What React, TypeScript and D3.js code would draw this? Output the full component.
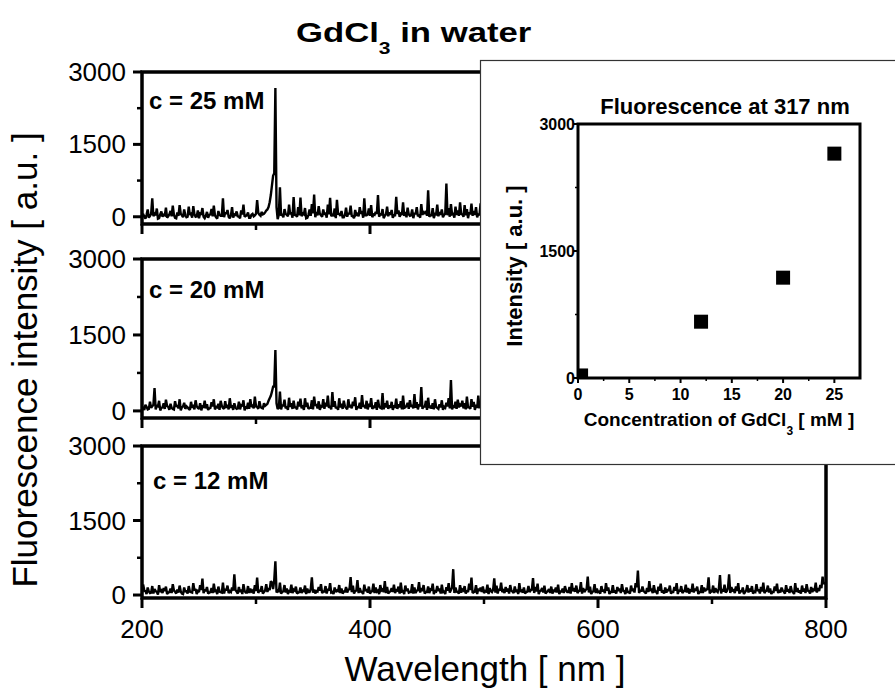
import React from "react";
import * as d3 from "d3";

const W = 895;
const H = 691;

// spectra, read at 1 nm: "odd" arrays hold 201, 203, 205 ... nm,
// "even" arrays hold 200, 202, 204 ... nm
const c25Odd = [
  60, -40, 150, 20, 380, 60, 170, -30, 110, 40,
  190, 10, 120, 230, -20, 90, 240, 30, 150, -10,
  210, 60, 220, 0, 130, 70, 180, -30, 100, 40,
  160, 230, -10, 120, 20, 380, 90, 140, -30, 200,
  50, 110, 0, 130, 250, 20, 90, -20, 60, 30,
  345, 40, 100, 60, 130, 200, 450, 850, 2670, -50,
  610, 60, 160, 40, 250, 90, 410, 30, 200, 400,
  70, 180, -20, 150, 260, 460, 100, 220, 30, 150,
  90, 250, 390, 40, 170, 350, 60, 120, -10, 190,
  80, 230, 10, 140, 60, 200, 120, 380, 30, 170,
  240, 50, 100, 450, 70, 160, 20, 210, 90, 140,
  30, 414, 130, 60, 300, 100, 190, 20, 150, 80,
  200, 40, 260, 90, 120, 550, 30, 180, 60, 250,
  100, 150, 40, 690, 180, 260, 60, 210, 130, 300,
  50, 240, 160, 90, 270, 120, 200, 60, 280, 150,
];
const c25Even = [
  20, 0, 40, -20, 60, 10, 30, -40, 50, 0,
  30, -20, 50, 10, 40, -30, 20, 60, -10, 30,
  0, 40, -20, 50, 10, -30, 60, 0, 20, -20,
  50, 10, 30, -40, 40, 20, -10, 60, 0, 30,
  -20, 40, 10, -30, 50, 0, 30, -20, 40, 10,
  60, 80, 20, 50, 90, 150, 300, 650, 900, 200,
  40, 20, -10, 60, 10, 50, -20, 40, 0, 30,
  10, 50, -30, 40, 20, 70, -10, 30, 60, 0,
  40, -20, 50, 10, 30, -30, 60, 20, -10, 40,
  0, 50, 20, -30, 40, 10, 60, -20, 30, 50,
  20, -10, 40, 60, 0, 30, -30, 50, 10, 40,
  -20, 30, 60, 0, 40, 20, -10, 50, 30, -30,
  50, 10, -20, 40, 60, 20, 0, 30, -30, 50,
  10, 40, -10, 60, 30, 0, 50, -20, 40, 20,
  60, 0, 30, -30, 50, 20, 40, -10, 30, 10,
];

const c20Odd = [
  60, 120, 30, 180, 90, 450, 100, 200, 60, 150,
  220, 80, 140, 40, 190, 110, 230, 70, 160, 90,
  40, 180, 120, 210, 60, 150, 90, 200, 130, 50,
  170, 230, 80, 140, 200, 60, 190, 120, 250, 90,
  150, 40, 180, 110, 210, 70, 160, 230, 100, 280,
  80, 190, 60, 150, 120, 200, 300, 480, 1200, 40,
  380, 120, 220, 90, 260, 150, 200, 70, 180, 240,
  110, 250, 160, 60, 210, 280, 130, 190, 90, 230,
  160, 300, 100, 370, 190, 80, 250, 140, 200, 60,
  230, 120, 180, 270, 90, 160, 310, 110, 200, 140,
  250, 80, 170, 220, 60, 350, 150, 200, 110, 180,
  90, 240, 130, 190, 300, 70, 160, 210, 120, 330,
  170, 130, 470, 100, 200, 260, 80, 150, 230, 60,
  130, 210, 80, 160, 250, 610, 90, 180, 220, 120,
  200, 150, 280, 70, 230, 180, 120, 300, 160, 210,
];
const c20Even = [
  50, 20, 80, 40, 60, 120, 30, 90, 10, 70,
  40, 100, 20, 60, 30, 80, 50, 10, 90, 40,
  70, 20, 60, 30, 90, 40, 10, 80, 50, 20,
  60, 90, 30, 70, 20, 100, 40, 60, 30, 80,
  20, 70, 50, 30, 90, 10, 60, 40, 80, 50,
  90, 40, 80, 50, 100, 140, 250, 380, 480, 150,
  60, 30, 90, 50, 20, 80, 40, 70, 30, 90,
  50, 20, 80, 40, 60, 30, 100, 50, 20, 70,
  40, 90, 60, 30, 80, 50, 20, 70, 40, 90,
  30, 70, 50, 100, 20, 60, 40, 80, 50, 30,
  80, 40, 60, 20, 90, 50, 30, 70, 40, 60,
  20, 80, 40, 70, 30, 60, 100, 40, 80, 50,
  60, 30, 90, 40, 70, 20, 60, 50, 30, 80,
  40, 70, 20, 60, 90, 50, 30, 80, 40, 70,
  90, 50, 30, 70, 40, 80, 20, 60, 50, 30,
];

const c12Odd = [
  210, 80, 150, 40, 180, 120, 60, 200, 90, 140,
  170, 50, 130, 220, 70, 110, 190, 30, 150, 90,
  180, 60, 240, 120, 80, 200, 330, 110, 160, 50,
  140, 230, 90, 170, 60, 250, 120, 190, 80, 150,
  415, 70, 160, 110, 220, 50, 180, 130, 90, 200,
  350, 100, 180, 60, 220, 140, 280, 120, 680, 90,
  250, 60, 200, 130, 80, 210, 110, 170, 50, 150,
  90, 190, 130, 60, 355, 110, 80, 160, 220, 70,
  180, 120, 240, 60, 150, 90, 200, 130, 70, 160,
  110, 360, 190, 80, 300, 140, 60, 210, 120, 170,
  70, 230, 150, 90, 200, 110, 280, 160, 60, 140,
  210, 100, 170, 250, 80, 190, 130, 60, 220, 150,
  90, 260, 140, 200, 60, 170, 110, 230, 80, 180,
  130, 210, 70, 160, 240, 100, 520, 150, 60, 200,
  110, 180, 90, 230, 350, 60, 200, 130, 150, 170,
  80, 210, 140, 60, 335, 190, 120, 250, 90, 160,
  130, 200, 70, 170, 110, 240, 90, 150, 60, 180,
  100, 340, 160, 230, 80, 140, 190, 60, 120, 170,
  90, 150, 210, 70, 130, 180, 60, 160, 240, 110,
  190, 80, 260, 140, 100, 370, 170, 60, 220, 130,
  70, 180, 110, 240, 150, 60, 200, 90, 160, 130,
  220, 80, 150, 60, 190, 130, 240, 490, 100, 170,
  60, 140, 280, 110, 200, 70, 170, 230, 90, 150,
  120, 190, 60, 160, 240, 100, 180, 80, 210, 140,
  90, 230, 130, 170, 60, 200, 150, 110, 355, 80,
  190, 140, 60, 400, 120, 210, 80, 415, 160, 100,
  170, 240, 90, 150, 60, 200, 130, 180, 70, 220,
  110, 160, 250, 80, 190, 130, 60, 170, 230, 100,
  150, 70, 200, 120, 180, 60, 240, 140, 90, 190,
  130, 220, 80, 160, 110, 250, 140, 200, 370, 260,
];
const c12Even = [
  40, 90, 20, 70, 50, 30, 80, 10, 60, 40,
  80, 20, 60, 40, 90, 30, 50, 70, 20, 60,
  30, 70, 50, 90, 20, 60, 100, 40, 80, 30,
  60, 40, 80, 20, 70, 50, 30, 90, 40, 60,
  90, 100, 30, 60, 20, 80, 50, 40, 70, 30,
  80, 40, 70, 30, 90, 60, 100, 250, 300, 50,
  60, 30, 80, 50, 20, 70, 40, 90, 30, 60,
  40, 80, 20, 60, 120, 50, 30, 70, 90, 40,
  70, 30, 90, 50, 20, 60, 80, 40, 30, 70,
  50, 120, 60, 30, 90, 40, 70, 20, 80, 50,
  30, 80, 40, 70, 20, 90, 60, 40, 30, 80,
  60, 40, 90, 30, 70, 20, 80, 50, 60, 30,
  40, 100, 50, 80, 30, 60, 40, 90, 20, 70,
  80, 30, 60, 20, 90, 50, 150, 40, 70, 30,
  50, 90, 30, 60, 100, 40, 70, 20, 80, 60,
  40, 70, 20, 80, 110, 50, 30, 90, 60, 40,
  70, 30, 90, 40, 60, 20, 80, 50, 30, 70,
  60, 110, 40, 70, 20, 90, 50, 30, 80, 40,
  30, 80, 50, 20, 70, 40, 90, 60, 30, 80,
  70, 40, 90, 30, 60, 120, 50, 20, 80, 40,
  60, 30, 70, 40, 90, 20, 60, 50, 30, 80,
  40, 90, 20, 60, 30, 80, 50, 160, 40, 70,
  80, 30, 60, 100, 40, 70, 20, 90, 50, 30,
  50, 80, 30, 60, 90, 20, 70, 40, 80, 50,
  30, 70, 50, 90, 20, 60, 40, 80, 120, 30,
  60, 40, 80, 130, 30, 70, 50, 140, 40, 90,
  40, 80, 30, 60, 20, 90, 50, 70, 30, 60,
  80, 30, 70, 40, 90, 50, 20, 60, 80, 40,
  50, 90, 30, 70, 40, 80, 20, 60, 50, 30,
  70, 40, 90, 30, 60, 100, 50, 80, 140, 220,
];

const panelOdd = [c25Odd, c20Odd, c12Odd];
const panelEven = [c25Even, c20Even, c12Even];
const panelLabels = ["c = 25 mM", "c = 20 mM", "c = 12 mM"];
const panelFloor = [-150, -140, -60];

const xTicks = [200, 400, 600, 800];
const xMinor = [300, 500, 700];
const yTicks = [0, 1500, 3000];
const yMinor = [750, 2250];

// inset: fluorescence at 317 nm vs concentration
const conc = [0.3, 12, 20, 25];
const peak317 = [30, 665, 1185, 2650];
const insetXTicks = [0, 5, 10, 15, 20, 25];
const insetXMinor = [2.5, 7.5, 12.5, 17.5, 22.5];
const insetYTicks = [0, 1500, 3000];
const insetYMinor = [750, 2250];

const FONT = "'Liberation Sans', Arial, Helvetica, sans-serif";

const left = 142;
const right = 826;
const boxes = [
  { top: 72, bottom: 224, lx: 149, ly: 109 },
  { top: 259, bottom: 418, lx: 149, ly: 298 },
  { top: 446, bottom: 598, lx: 153, ly: 489 },
];

const x = d3.scaleLinear().domain([200, 800]).range([left, right]);

// pair up the even/odd readings into [nm, value] points
function spectrum(even: number[], odd: number[]): [number, number][] {
  return d3.merge(
    even.map((v, k) => [
      [200 + 2 * k, v] as [number, number],
      [201 + 2 * k, odd[k]] as [number, number],
    ])
  );
}

function Panel({ i }: { i: number }) {
  const b = boxes[i];
  const y = d3.scaleLinear().domain([panelFloor[i], 3000]).range([b.bottom, b.top]);
  const line = d3
    .line<[number, number]>()
    .x((d) => x(d[0]))
    .y((d) => y(d[1]));
  const pts = spectrum(panelEven[i], panelOdd[i]);
  const last = i === boxes.length - 1;
  return (
    <g>
      <defs>
        <clipPath id={`clip${i}`}>
          <rect x={left} y={b.top} width={right - left} height={b.bottom - b.top} />
        </clipPath>
      </defs>
      <path
        d={line(pts) || ""}
        fill="none"
        stroke="#000"
        strokeWidth={2.4}
        strokeLinejoin="miter"
        strokeMiterlimit={2}
        clipPath={`url(#clip${i})`}
      />
      <rect x={left} y={b.top} width={right - left} height={b.bottom - b.top} fill="none" stroke="#000" strokeWidth={3.5} />
      {yTicks.map((t) => (
        <g key={t}>
          <line x1={left - 9} x2={left} y1={y(t)} y2={y(t)} stroke="#000" strokeWidth={3} />
          <text x={126} y={y(t) + 9} textAnchor="end" fontSize={26} fontFamily={FONT}>
            {t}
          </text>
        </g>
      ))}
      {yMinor.map((t) => (
        <line key={t} x1={left - 5} x2={left} y1={y(t)} y2={y(t)} stroke="#000" strokeWidth={2.5} />
      ))}
      {xTicks.map((t) => (
        <line key={t} x1={x(t)} x2={x(t)} y1={b.bottom} y2={b.bottom + 10} stroke="#000" strokeWidth={3} />
      ))}
      {xMinor.map((t) => (
        <line key={t} x1={x(t)} x2={x(t)} y1={b.bottom} y2={b.bottom + 6} stroke="#000" strokeWidth={2.5} />
      ))}
      {last &&
        xTicks.map((t) => (
          <text key={t} x={x(t)} y={638} textAnchor="middle" fontSize={26} fontFamily={FONT}>
            {t}
          </text>
        ))}
      <text x={b.lx} y={b.ly} fontSize={24} fontWeight="bold" fontFamily={FONT}>
        {panelLabels[i]}
      </text>
    </g>
  );
}

function Inset() {
  const ix = d3.scaleLinear().domain([0, 27.5]).range([578, 860]);
  const iy = d3.scaleLinear().domain([0, 3000]).range([378, 124]);
  const [x0, x1] = ix.range();
  const [y0, y1] = iy.range();
  const s = 14;
  return (
    <g>
      <rect x={480.5} y={60.5} width={430} height={404} fill="#fff" stroke="#333" strokeWidth={1.2} />
      <defs>
        <clipPath id="insetClip">
          <rect x={x0} y={y1} width={x1 - x0} height={y0 - y1} />
        </clipPath>
      </defs>
      <g clipPath="url(#insetClip)">
        {conc.map((c, k) => (
          <rect key={k} x={ix(c) - s / 2} y={iy(peak317[k]) - s / 2} width={s} height={s} fill="#000" />
        ))}
      </g>
      <rect x={x0} y={y1} width={x1 - x0} height={y0 - y1} fill="none" stroke="#000" strokeWidth={3} />
      {insetYTicks.map((t) => (
        <g key={t}>
          <line x1={x0 - 5} x2={x0} y1={iy(t)} y2={iy(t)} stroke="#000" strokeWidth={2} />
          <text x={575} y={iy(t) + 6} textAnchor="end" fontSize={16} fontWeight="bold" fontFamily={FONT}>
            {t}
          </text>
        </g>
      ))}
      {insetYMinor.map((t) => (
        <line key={t} x1={x0 - 3} x2={x0} y1={iy(t)} y2={iy(t)} stroke="#000" strokeWidth={1.5} />
      ))}
      {insetXTicks.map((t) => (
        <g key={t}>
          <line x1={ix(t)} x2={ix(t)} y1={y0} y2={y0 + 5} stroke="#000" strokeWidth={2} />
          <text x={ix(t)} y={400} textAnchor="middle" fontSize={16} fontWeight="bold" fontFamily={FONT}>
            {t}
          </text>
        </g>
      ))}
      {insetXMinor.map((t) => (
        <line key={t} x1={ix(t)} x2={ix(t)} y1={y0} y2={y0 + 3} stroke="#000" strokeWidth={1.5} />
      ))}
      <text x={725} y={114} textAnchor="middle" fontSize={22} fontWeight="bold" fontFamily={FONT}>
        Fluorescence at 317 nm
      </text>
      <text
        transform="translate(522,266) rotate(-90)"
        textAnchor="middle"
        fontSize={22}
        fontWeight="bold"
        fontFamily={FONT}
      >
        Intensity [ a.u. ]
      </text>
      <text x={719} y={426} textAnchor="middle" fontSize={19} fontWeight="bold" fontFamily={FONT}>
        Concentration of GdCl
        <tspan fontSize={12} dy={9}>3</tspan>
        <tspan dy={-9}> [ mM ]</tspan>
      </text>
    </g>
  );
}

export default function App() {
  return (
    <svg
      width={W}
      height={H}
      viewBox={`0 0 ${W} ${H}`}
      style={{ position: "absolute", left: 0, top: 0, background: "#fff" }}
    >
      <rect width={W} height={H} fill="#fff" />
      {boxes.map((_, i) => (
        <Panel key={i} i={i} />
      ))}
      <g transform="translate(296,42) scale(1.24,1)">
        <text x={0} y={0} fontSize={28} fontWeight="bold" fontFamily={FONT}>
          GdCl
          <tspan fontSize={17} dy={12}>3</tspan>
          <tspan dy={-12}> in water</tspan>
        </text>
      </g>
      <text transform="translate(37,360) rotate(-90)" textAnchor="middle" fontSize={35} fontFamily={FONT}>
        Fluorescence intensity [ a.u. ]
      </text>
      <text x={485} y={681} textAnchor="middle" fontSize={35} fontFamily={FONT}>
        Wavelength [ nm ]
      </text>
      <Inset />
    </svg>
  );
}
